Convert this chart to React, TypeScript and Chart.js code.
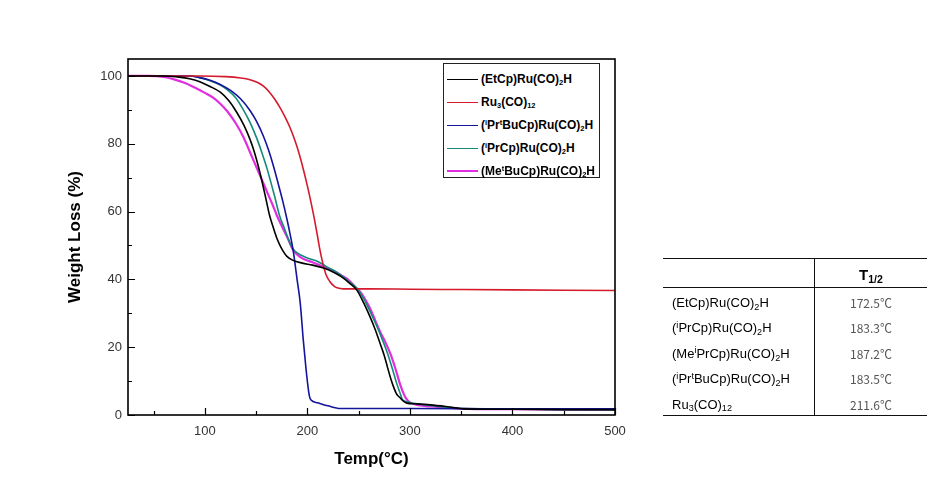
import React, { useEffect, useRef } from "react";
import { Chart, registerables } from "chart.js";

Chart.register(...registerables);

// ---- axis ticks ----
const xTicks = [100, 200, 300, 400, 500];
const xMinor = [50, 150, 250, 350, 450];
const yTicks = [0, 20, 40, 60, 80, 100];
const yMinor = [10, 30, 50, 70, 90];

// ---- series (temperature °C, weight %) ----
const etcpT = [25, 60, 73, 85, 95, 105, 115, 123, 131, 138, 144, 148, 152, 156, 159, 163, 167, 170, 173, 176, 180, 186, 195, 205, 215, 225, 233, 241, 248, 255, 261, 266, 271, 275, 278, 281, 284, 287, 290.6, 294, 297, 305, 320, 335, 345, 352, 400, 450, 500];
const etcpW = [100, 100, 99.7, 99.2, 98.3, 96.9, 95.2, 92.8, 89.3, 85.5, 81.3, 77.8, 73.5, 68.5, 64.5, 59, 55, 52.3, 50.2, 48.5, 46.8, 45.6, 44.8, 44.2, 43.4, 42.2, 40.8, 38.9, 36.9, 33, 29, 25.3, 21, 17.5, 14.2, 11, 8.3, 6.2, 5, 4, 3.5, 3.3, 3, 2.5, 2.1, 1.8, 1.7, 1.6, 1.6];

const ru3T = [25, 95, 120, 135, 144, 152, 158, 163, 168, 173, 178, 183, 188, 192, 196, 200, 204, 207, 210, 212, 215, 218, 222, 226, 229, 235, 260, 300, 350, 400, 450, 500];
const ru3W = [100, 100, 99.8, 99.4, 98.9, 98, 96.8, 95.2, 93.2, 90.8, 88, 84.8, 80.8, 77, 72.5, 67.5, 62, 57.5, 52.5, 49, 44.8, 41.5, 39.3, 38, 37.5, 37.2, 37.2, 37.1, 37, 36.9, 36.8, 36.7];

const iprtbuT = [25, 85, 95, 105, 115, 122, 127, 135, 144, 150, 157, 162, 166.5, 171, 176, 180, 183, 186, 190, 193, 196, 198.5, 200.6, 202, 203.5, 210, 220, 232, 300, 400, 500];
const iprtbuW = [100, 100, 99.5, 98.7, 97.5, 96.3, 95.3, 93.2, 89.8, 86.8, 82.3, 78.2, 73.8, 68.8, 63, 57.8, 53.5, 48.7, 39.8, 33, 22, 14, 8.3, 5.5, 4.4, 3.6, 2.7, 1.9, 1.9, 1.8, 1.8];

const iprT = [25, 85, 95, 105, 115, 122, 130, 137, 144, 151, 156, 161, 164, 168, 173, 177, 180, 183, 186, 190, 200, 210, 219, 228, 235, 241, 248, 253, 258, 263, 268, 273, 278, 283, 287, 290, 293, 297, 305, 320, 335, 350, 400, 450, 500];
const iprW = [100, 100, 99.5, 98.6, 97.3, 95.9, 93.6, 90.3, 86.3, 81.3, 77, 72.3, 69, 64.5, 58.6, 55.5, 53, 50.7, 49, 47.8, 46.3, 45.3, 43.7, 42.2, 40.7, 39.2, 37.5, 35.3, 32.5, 29.3, 26, 22.3, 18.3, 13.5, 9.4, 6.8, 4.4, 3.9, 3.4, 2.8, 2.3, 2, 1.8, 1.6, 1.5];

const metbuT = [25, 45, 60, 70, 80, 90, 100, 108, 115, 122, 131, 138, 144, 150, 157, 161, 166, 170, 173, 177, 181, 186, 192, 198, 205.5, 215, 225, 233, 241, 247, 251, 256, 261, 266, 271, 276, 281, 286, 291, 295, 298, 301, 308, 320, 335, 350, 400, 450, 500];
const metbuW = [100, 100, 99.7, 99, 98, 96.6, 95, 93.6, 91.8, 89.5, 85.6, 81.7, 77.5, 73.3, 68.4, 65.5, 62, 59, 57, 54.5, 52, 48.7, 46.8, 45.8, 45, 43.8, 42.6, 41.2, 39.6, 37.6, 36.5, 34.3, 31.5, 28, 24.5, 21.5, 18, 13.5, 8.5, 5.5, 4.2, 3.5, 2.9, 2.5, 2.2, 1.9, 1.7, 1.6, 1.5];

// ---- legend labels (^sup^, _sub_) ----
const seriesLabels = [
  "(EtCp)Ru(CO)_2_H",
  "Ru_3_(CO)_12_",
  "(^i^Pr^t^BuCp)Ru(CO)_2_H",
  "(^i^PrCp)Ru(CO)_2_H",
  "(Me^t^BuCp)Ru(CO)_2_H",
];
const seriesColors = ["#000000", "#d41a2c", "#14149c", "#158a7c", "#e02ee0"];
const seriesWidths = [1.6, 1.6, 1.6, 1.6, 2.2];
const seriesT = [etcpT, ru3T, iprtbuT, iprT, metbuT];
const seriesW = [etcpW, ru3W, iprtbuW, iprW, metbuW];

// ---- table ----
const tableHeader = "T_1/2_";
const tableNames = [
  "(EtCp)Ru(CO)_2_H",
  "(^i^PrCp)Ru(CO)_2_H",
  "(Me^i^PrCp)Ru(CO)_2_H",
  "(^i^Pr^t^BuCp)Ru(CO)_2_H",
  "Ru_3_(CO)_12_",
];
const tableValues = ["172.5℃", "183.3℃", "187.2℃", "183.5℃", "211.6℃"];

const FONT = 'Arial, "Liberation Sans", sans-serif';

function Rich({ text, subSize = "0.75em" }: { text: string; subSize?: string }) {
  const parts = text.split(/(\^[^^]*\^|_[^_]*_)/).filter((p) => p.length > 0);
  return (
    <>
      {parts.map((p, i) => {
        if (p.startsWith("^") && p.endsWith("^") && p.length > 1)
          return (
            <span key={i} style={{ fontSize: subSize, position: "relative", top: "-0.5em", lineHeight: 0 }}>
              {p.slice(1, -1)}
            </span>
          );
        if (p.startsWith("_") && p.endsWith("_") && p.length > 1)
          return (
            <span key={i} style={{ fontSize: subSize, position: "relative", top: "0.3em", lineHeight: 0 }}>
              {p.slice(1, -1)}
            </span>
          );
        return <span key={i}>{p}</span>;
      })}
    </>
  );
}

const framePlugin = {
  id: "frameTicks",
  afterDatasetsDraw(chart: any) {
    const { ctx, chartArea: a, scales } = chart;
    const x = scales.x;
    const y = scales.y;
    ctx.save();
    ctx.strokeStyle = "#000";
    ctx.lineWidth = 1.2;
    ctx.beginPath();
    xTicks.forEach((v) => {
      const px = Math.round(x.getPixelForValue(v)) + 0.5;
      ctx.moveTo(px, a.bottom);
      ctx.lineTo(px, a.bottom - 7);
    });
    xMinor.forEach((v) => {
      const px = Math.round(x.getPixelForValue(v)) + 0.5;
      ctx.moveTo(px, a.bottom);
      ctx.lineTo(px, a.bottom - 4);
    });
    yTicks.forEach((v) => {
      const py = Math.round(y.getPixelForValue(v)) + 0.5;
      ctx.moveTo(a.left, py);
      ctx.lineTo(a.left + 7, py);
    });
    yMinor.forEach((v) => {
      const py = Math.round(y.getPixelForValue(v)) + 0.5;
      ctx.moveTo(a.left, py);
      ctx.lineTo(a.left + 4, py);
    });
    ctx.stroke();
    ctx.lineWidth = 1.6;
    ctx.strokeRect(a.left, a.top, a.right - a.left, a.bottom - a.top);
    ctx.restore();
  },
};

export default function App() {
  const ref = useRef<HTMLCanvasElement | null>(null);

  useEffect(() => {
    if (!ref.current) return;
    const chart = new Chart(ref.current, {
      type: "line",
      data: {
        datasets: seriesLabels.map((label, i) => ({
          label: label.replace(/[\^_]/g, ""),
          data: seriesT[i].map((t, j) => ({ x: t, y: seriesW[i][j] })),
          borderColor: seriesColors[i],
          backgroundColor: seriesColors[i],
          borderWidth: seriesWidths[i],
          pointRadius: 0,
          cubicInterpolationMode: "monotone" as const,
          fill: false,
        })),
      },
      options: {
        animation: false,
        responsive: false,
        maintainAspectRatio: false,
        layout: { padding: { top: 59, right: 323, bottom: 0, left: 0 } },
        plugins: { legend: { display: false }, tooltip: { enabled: false } },
        scales: {
          x: {
            type: "linear",
            min: 25,
            max: 500,
            afterBuildTicks: (s: any) => {
              s.ticks = xTicks.map((v) => ({ value: v }));
            },
            afterFit: (s: any) => {
              s.height = 85;
            },
            grid: { display: false, drawTicks: false },
            border: { display: false },
            ticks: { padding: 9, color: "#333", font: { family: FONT, size: 13 } },
            title: {
              display: true,
              text: "Temp(°C)",
              color: "#000",
              font: { family: FONT, size: 17, weight: "bold" },
              padding: { top: 0, bottom: 30 },
            },
          },
          y: {
            type: "linear",
            min: 0,
            max: 105,
            afterBuildTicks: (s: any) => {
              s.ticks = yTicks.map((v) => ({ value: v }));
            },
            afterFit: (s: any) => {
              s.width = 128;
            },
            grid: { display: false, drawTicks: false },
            border: { display: false },
            ticks: { padding: 6, color: "#333", font: { family: FONT, size: 13 } },
            title: {
              display: true,
              text: "Weight Loss (%)",
              color: "#000",
              font: { family: FONT, size: 17, weight: "bold" },
              padding: { top: 65, bottom: 0 },
            },
          },
        },
      },
      plugins: [framePlugin],
    });
    return () => chart.destroy();
  }, []);

  return (
    <div style={{ position: "fixed", left: 0, top: 0, width: 938, height: 500, background: "#fff", overflow: "hidden" }}>
      <canvas ref={ref} width={938} height={500} style={{ position: "absolute", left: 0, top: 0, width: 938, height: 500 }} />

      {/* legend */}
      <div
        style={{
          position: "absolute",
          left: 443,
          top: 63,
          width: 157,
          height: 115,
          border: "1px solid #222",
          background: "#fff",
          boxSizing: "border-box",
          fontFamily: FONT,
          fontWeight: "bold",
          fontSize: 12,
          color: "#000",
        }}
      >
        {seriesLabels.map((lab, i) => (
          <div key={i} style={{ position: "absolute", left: 0, top: 4 + i * 23, height: 22, width: 155, display: "flex", alignItems: "center" }}>
            <div style={{ width: 31, marginLeft: 3, height: 0, borderTop: `${seriesWidths[i] > 2 ? 2 : 1.5}px solid ${seriesColors[i]}` }} />
            <div style={{ marginLeft: 3, whiteSpace: "nowrap", lineHeight: "14px" }}>
              <Rich text={lab} subSize="0.62em" />
            </div>
          </div>
        ))}
      </div>

      {/* table */}
      <div style={{ position: "absolute", left: 663, top: 258, width: 264, height: 158, fontFamily: FONT, color: "#000" }}>
        <div style={{ position: "absolute", left: 0, top: 0, width: 264, height: 0, borderTop: "1.5px solid #111" }} />
        <div style={{ position: "absolute", left: 0, top: 29, width: 264, height: 0, borderTop: "1px solid #111" }} />
        <div style={{ position: "absolute", left: 0, top: 157, width: 264, height: 0, borderTop: "1.5px solid #111" }} />
        <div style={{ position: "absolute", left: 151, top: 0, width: 0, height: 158, borderLeft: "1px solid #111" }} />
        <div
          style={{
            position: "absolute",
            left: 152,
            top: 8,
            width: 112,
            textAlign: "center",
            fontWeight: "bold",
            fontSize: 15,
            lineHeight: "18px",
          }}
        >
          <Rich text={tableHeader} subSize="0.7em" />
        </div>
        {tableNames.map((nm, i) => (
          <React.Fragment key={i}>
            <div
              style={{
                position: "absolute",
                left: 9,
                top: 35 + i * 25.4,
                height: 20,
                lineHeight: "20px",
                fontSize: 13,
                whiteSpace: "nowrap",
              }}
            >
              <Rich text={nm} subSize="0.7em" />
            </div>
            <div
              style={{
                position: "absolute",
                left: 152,
                width: 112,
                top: 35 + i * 25.4,
                height: 20,
                lineHeight: "20px",
                fontSize: 12,
                textAlign: "center",
                color: "#555",
                fontFamily: '"Noto Sans CJK KR", "Noto Sans", sans-serif',
              }}
            >
              {tableValues[i]}
            </div>
          </React.Fragment>
        ))}
      </div>
    </div>
  );
}
